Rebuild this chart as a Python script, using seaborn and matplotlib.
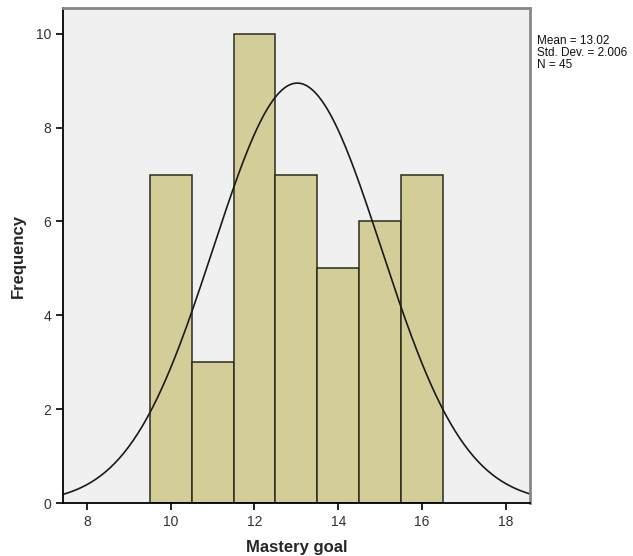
import numpy as np
import pandas as pd
import matplotlib
matplotlib.use("Agg")
import matplotlib.pyplot as plt
import seaborn as sns

# Histogram data
scores = [10, 11, 12, 13, 14, 15, 16]
counts = [7, 3, 10, 7, 5, 6, 7]
mean = 13.02
std = 2.006
n = 45

df = pd.DataFrame({"score": np.repeat(scores, counts)})

sns.set_style("white")
plt.rcParams['font.family'] = ['Liberation Sans', 'DejaVu Sans']

fig = plt.figure(figsize=(6.33, 5.56), dpi=100)
ax = fig.add_axes([0.0995, 0.0953, 0.7375, 0.8903])
ax.set_facecolor("#f0f0f0")

sns.histplot(data=df, x="score", binwidth=1, binrange=(9.5, 16.5),
             color="#d3ce98", edgecolor="#2b2b20", linewidth=1.1, alpha=1, ax=ax)

# normal curve scaled to counts (bin width 1)
xs = np.linspace(7.43, 18.57, 300)
ys = n * np.exp(-0.5 * ((xs - mean) / std) ** 2) / (std * np.sqrt(2 * np.pi))
sns.lineplot(x=xs, y=ys, color="#1a1a1a", linewidth=1.2, ax=ax)

ax.set_xlim(7.43, 18.57)
ax.set_ylim(0, 10.55)
ax.set_xticks([8, 10, 12, 14, 16, 18])
ax.set_yticks([0, 2, 4, 6, 8, 10])
ax.tick_params(axis="both", length=5, width=1.2, color="black", labelsize=10,
               labelcolor="#333333", direction="out", bottom=True, left=True)
ax.set_xlabel("Mastery goal", fontsize=12, fontweight="bold", labelpad=8)
ax.set_ylabel("Frequency", fontsize=12, fontweight="bold", labelpad=7)

for side in ["left", "bottom"]:
    ax.spines[side].set_color("black")
    ax.spines[side].set_linewidth(1.3)
for side in ["top", "right"]:
    ax.spines[side].set_color("#888888")
    ax.spines[side].set_linewidth(2)

fig.text(0.849, 0.937, f"Mean = {mean:.2f}\nStd. Dev. = {std:.3f}\nN = {n}",
         fontsize=8.5, va="top", ha="left", linespacing=1.0, color="#111111")

fig.savefig("out.png", dpi=100)
